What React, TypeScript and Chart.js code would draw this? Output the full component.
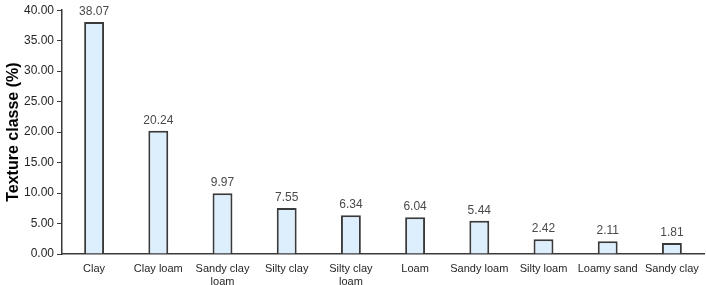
import React, { useEffect, useRef } from "react";
import { Chart, registerables } from "chart.js";

Chart.register(...registerables);

const categories: (string | string[])[] = [
  "Clay",
  "Clay loam",
  ["Sandy clay", "loam"],
  "Silty clay",
  ["Silty clay", "loam"],
  "Loam",
  "Sandy loam",
  "Silty loam",
  "Loamy sand",
  "Sandy clay",
];
const values: number[] = [38.07, 20.24, 9.97, 7.55, 6.34, 6.04, 5.44, 2.42, 2.11, 1.81];
const yTicks: number[] = [0, 5, 10, 15, 20, 25, 30, 35, 40];
const yTitle = "Texture classe (%)";

const FONT = "'Liberation Sans', Arial, sans-serif";

const valueLabels = {
  id: "valueLabels",
  afterDatasetsDraw(chart: any) {
    const ctx = chart.ctx;
    const meta = chart.getDatasetMeta(0);
    ctx.save();
    ctx.fillStyle = "#4a4a4a";
    ctx.font = `12px ${FONT}`;
    ctx.textAlign = "center";
    ctx.textBaseline = "alphabetic";
    meta.data.forEach((bar: any, i: number) => {
      ctx.fillText(values[i].toFixed(2), bar.x, bar.y - 7);
    });
    ctx.restore();
  },
};

export default function App() {
  const ref = useRef<HTMLCanvasElement | null>(null);
  useEffect(() => {
    document.body.style.margin = "0";
    if (!ref.current) return;
    const chart = new Chart(ref.current, {
      type: "bar",
      data: {
        labels: categories,
        datasets: [
          {
            data: values,
            backgroundColor: "#DDEEFD",
            borderColor: "#3a3a3a",
            borderWidth: 2,
            categoryPercentage: 1,
            barPercentage: 0.31,
          },
        ],
      },
      options: {
        responsive: false,
        animation: false,
        layout: { padding: { top: 6, right: 2, left: 0, bottom: 0 } },
        plugins: {
          legend: { display: false },
          tooltip: { enabled: false },
        },
        scales: {
          x: {
            grid: { display: false },
            border: { display: true, color: "#3a3a3a", width: 1.5 },
            ticks: {
              color: "#262626",
              font: { family: FONT, size: 11, lineHeight: 1.18 },
              padding: 0,
              maxRotation: 0,
              autoSkip: false,
            },
            afterFit(scale: any) {
              scale.height = 31;
            },
          },
          y: {
            min: 0,
            max: 40,
            afterBuildTicks(scale: any) {
              scale.ticks = yTicks.map((v) => ({ value: v }));
            },
            grid: {
              drawOnChartArea: false,
              drawTicks: true,
              tickLength: 5,
              color: "#3a3a3a",
            },
            border: { display: true, color: "#3a3a3a", width: 1.5 },
            ticks: {
              color: "#262626",
              font: { family: FONT, size: 12 },
              padding: 3,
              callback: (v: any) => Number(v).toFixed(2),
            },
            title: {
              display: true,
              text: yTitle,
              color: "#000000",
              font: { family: FONT, size: 16, weight: "bold" },
              padding: { top: 4, bottom: 0 },
            },
            afterFit(scale: any) {
              scale.width = 62;
            },
          },
        },
      },
      plugins: [valueLabels],
    });
    return () => chart.destroy();
  }, []);
  return (
    <div style={{ width: 706, height: 285 }}>
      <canvas ref={ref} width={706} height={285} style={{ display: "block" }} />
    </div>
  );
}
